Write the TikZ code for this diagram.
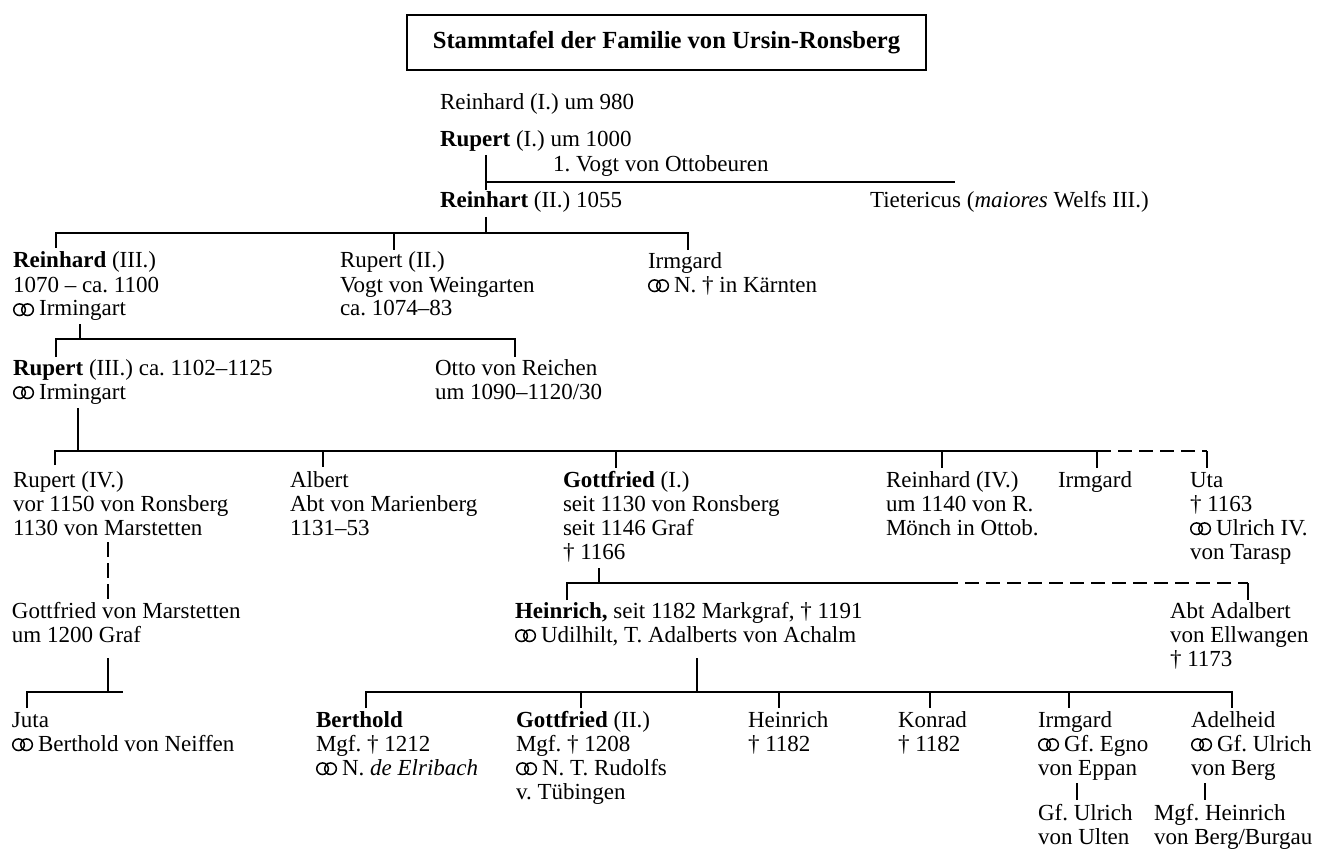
\documentclass[tikz,border=0pt]{standalone}
\usepackage{fontspec}
\setmainfont{Liberation Serif}
\newcommand\marr{\tikz[baseline=0pt,x=1pt,y=1pt,line width=1.5pt]{\draw (6,6.3) circle[radius=5.8]; \draw (14,6.3) circle[radius=5.8];}\hspace{5pt}}
\newcommand\st{\rule{0pt}{18pt}}
\tikzset{
  lbl/.style={anchor=north west, inner sep=0pt, outer sep=0pt, align=left, yshift=18pt, font=\fontsize{23}{24}\selectfont},
  ln/.style={line width=1.8pt},
  dln/.style={line width=1.8pt, dash pattern=on 14pt off 7pt},
}
\begin{document}
\frenchspacing
\begin{tikzpicture}[x=1pt,y=-1pt]
\useasboundingbox[fill=white] (0,0) rectangle (1330,850);
% title
\node[draw, line width=2.4pt, minimum width=519pt, minimum height=55pt, inner sep=0pt,
  font=\fontsize{24.6}{30}\selectfont\bfseries] (title) at (666.5,42.5) {Stammtafel der Familie von Ursin-Ronsberg};
% text nodes (positioned at first baseline)
\node[lbl] (reinhardI) at (440,110) {\st Reinhard (I.) um 980};
\node[lbl] (rupertI) at (440,147) {\st\textbf{Rupert} (I.) um 1000};
\node[lbl] (vogt) at (553,172) {\st 1. Vogt von Ottobeuren};
\node[lbl] (reinhartII) at (440,208) {\st\textbf{Reinhart} (II.) 1055};
\node[lbl] (tiet) at (870,208) {\st Tietericus (\textit{maiores} Welfs III.)};
\node[lbl] (reinhardIII) at (13,268) {\st\textbf{Reinhard} (III.)\\1070 – ca. 1100\\\marr Irmingart};
\node[lbl] (rupertII) at (340,268) {\st Rupert (II.)\\Vogt von Weingarten\\ca. 1074–83};
\node[lbl] (irmgardA) at (648,268) {\st Irmgard\\\marr N. † in Kärnten};
\node[lbl] (rupertIII) at (13,375) {\st\textbf{Rupert} (III.) ca. 1102–1125\\\marr Irmingart};
\node[lbl] (otto) at (435,375) {\st Otto von Reichen\\um 1090–1120/30};
\node[lbl] (rupertIV) at (13,487) {\st Rupert (IV.)\\vor 1150 von Ronsberg\\1130 von Marstetten};
\node[lbl] (albert) at (290,487) {\st Albert\\Abt von Marienberg\\1131–53};
\node[lbl] (gottfriedI) at (563,487) {\st\textbf{Gottfried} (I.)\\seit 1130 von Ronsberg\\seit 1146 Graf\\† 1166};
\node[lbl] (reinhardIV) at (886,487) {\st Reinhard (IV.)\\um 1140 von R.\\Mönch in Ottob.};
\node[lbl] (irmgardB) at (1058,487) {\st Irmgard};
\node[lbl] (uta) at (1190,487) {\st Uta\\† 1163\\\marr Ulrich IV.\\von Tarasp};
\node[lbl] (gottfriedM) at (12,618) {\st Gottfried von Marstetten\\um 1200 Graf};
\node[lbl] (heinrichM) at (515,618) {\st\textbf{Heinrich,} seit 1182 Markgraf, † 1191\\\marr Udilhilt, T. Adalberts von Achalm};
\node[lbl] (adalbert) at (1170,618) {\st Abt Adalbert\\von Ellwangen\\† 1173};
\node[lbl] (juta) at (12,727) {\st Juta\\\marr Berthold von Neiffen};
\node[lbl] (berthold) at (316,727) {\st\textbf{Berthold}\\Mgf. † 1212\\\marr N. \textit{de Elribach}};
\node[lbl] (gottfriedII) at (516,727) {\st\textbf{Gottfried} (II.)\\Mgf. † 1208\\\marr N. T. Rudolfs\\v. Tübingen};
\node[lbl] (heinrichB) at (748,727) {\st Heinrich\\† 1182};
\node[lbl] (konrad) at (898,727) {\st Konrad\\† 1182};
\node[lbl] (irmgardC) at (1038,727) {\st Irmgard\\\marr Gf. Egno\\von Eppan};
\node[lbl] (adelheid) at (1191,727) {\st Adelheid\\\marr Gf. Ulrich\\von Berg};
\node[lbl] (ulrich) at (1038,820) {\st Gf. Ulrich\\von Ulten};
\node[lbl] (mheinrich) at (1154,820) {\st Mgf. Heinrich\\von Berg/Burgau};
% junction coordinates
\coordinate (a0) at (486,155); \coordinate (a1) at (486,190);
\coordinate (a2) at (486,182); \coordinate (a3) at (955,182);
\coordinate (b0) at (486,217); \coordinate (b1) at (486,233);
\coordinate (bL) at (56,233); \coordinate (bR) at (688,233);
\coordinate (bM) at (394,233);
\coordinate (c0) at (80,324); \coordinate (c1) at (80,339);
\coordinate (cL) at (56,339); \coordinate (cR) at (515,339);
\coordinate (d0) at (78,408); \coordinate (d1) at (78,451);
\coordinate (dL) at (55,451); \coordinate (dS) at (1097,451); \coordinate (dR) at (1207,451);
\coordinate (dA) at (323,451); \coordinate (dG) at (616,451); \coordinate (dI) at (942,451);
\coordinate (e0) at (108,542); \coordinate (e1) at (108,600);
\coordinate (f0) at (108,658); \coordinate (f1) at (108,692);
\coordinate (fL) at (27,692); \coordinate (fR) at (123,692);
\coordinate (g0) at (599,568); \coordinate (g1) at (599,583);
\coordinate (gL) at (567,583); \coordinate (gS) at (944,583); \coordinate (gR) at (1248,583);
\coordinate (h0) at (697,658); \coordinate (h1) at (697,692);
\coordinate (hL) at (366,692); \coordinate (hR) at (1232,692);
\coordinate (h2) at (581,692); \coordinate (h3) at (779,692); \coordinate (h4) at (930,692); \coordinate (h5) at (1069,692);
\coordinate (k0) at (1077,783); \coordinate (k1) at (1077,800);
\coordinate (m0) at (1205,783); \coordinate (m1) at (1205,800);
% connectors
\draw[ln] (a0) -- (a1);
\draw[ln] (a2) -- (a3);
\draw[ln] (b0) -- (b1);
\draw[ln] (bL) ++(0,15) -- (bL) -- (bR) -- ++(0,17);
\draw[ln] (bM) -- ++(0,17);
\draw[ln] (c0) -- (c1);
\draw[ln] (cL) ++(0,18) -- (cL) -- (cR) -- ++(0,18);
\draw[ln] (d0) -- (d1);
\draw[ln] (dL) ++(0,14) -- (dL) -- (dS) -- ++(0,17);
\draw[dln] (dS) -- (dR);
\draw[ln] (dR) -- ++(0,17);
\draw[ln] (dA) -- ++(0,16);
\draw[ln] (dG) -- ++(0,17);
\draw[ln] (dI) -- ++(0,17);
\draw[dln, dash pattern=on 15pt off 6pt] (e0) -- (e1);
\draw[ln] (f0) -- (f1);
\draw[ln] (fL) ++(0,16) -- (fL) -- (fR);
\draw[ln] (g0) -- (g1);
\draw[ln] (gL) ++(0,17) -- (gL) -- (gS);
\draw[dln] (gS) -- (gR);
\draw[ln] (gR) -- ++(0,17);
\draw[ln] (h0) -- (h1);
\draw[ln] (hL) ++(0,16) -- (hL) -- (hR) -- ++(0,16);
\draw[ln] (h2) -- ++(0,16);
\draw[ln] (h3) -- ++(0,16);
\draw[ln] (h4) -- ++(0,16);
\draw[ln] (h5) -- ++(0,16);
\draw[ln] (k0) -- (k1);
\draw[ln] (m0) -- (m1);
\end{tikzpicture}
\end{document}
